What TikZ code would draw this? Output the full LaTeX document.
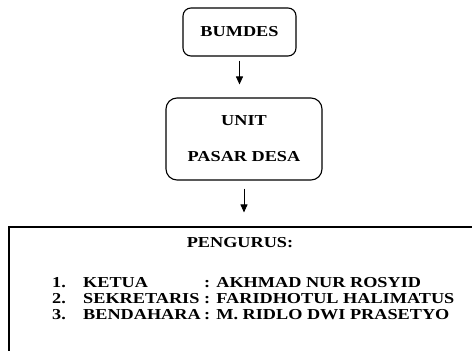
\documentclass[tikz,border=0pt]{standalone}
\usepackage{fontspec}
\setmainfont{Liberation Serif}[FakeStretch=1.2]
\usetikzlibrary{arrows.meta}
\tikzset{
  box/.style={draw, line width=1.1pt, rounded corners=8pt, inner sep=0pt, align=center,
    font=\fontsize{15.2}{17}\selectfont\bfseries},
  txt/.style={inner sep=0pt, font=\fontsize{15.2}{17}\selectfont\bfseries},
  arr/.style={line width=0.9pt, -{Triangle[length=8pt,width=7pt]}}
}
\begin{document}
\begin{tikzpicture}[x=1pt,y=-1pt]
\useasboundingbox (0,0) rectangle (472,351);
\clip (0,0) rectangle (472,351);
\node[box, minimum width=113pt, minimum height=48pt] (b1) at (239.5,32) {BUMDES};
\node[box, rounded corners=11pt, minimum width=156pt, minimum height=82pt] (u) at (244,139) {UNIT\\[19pt]PASAR DESA};
\node[draw, line width=1.1pt, minimum width=480pt, minimum height=140pt, inner sep=0pt] (p) at (249,297) {};
\coordinate (a1) at (b1.south |- u.north);
\coordinate (a2) at (u.south |- p.north);
\draw[arr] ([yshift=-4pt]b1.south) -- ([yshift=13pt]a1);
\draw[arr] ([yshift=-8pt]u.south) -- ([yshift=14pt]a2);
\node[txt] (t0) at (240,243) {PENGURUS:};
\node[txt, anchor=base west] (n1) at (52,287) {1.};
\node[txt, anchor=base west] (n2) at (52,303) {2.};
\node[txt, anchor=base west] (n3) at (52,319) {3.};
\node[txt, anchor=base west] (k1) at (83,287) {KETUA};
\node[txt, anchor=base west] (k2) at (83,303) {SEKRETARIS};
\node[txt, anchor=base west] (k3) at (83,319) {BENDAHARA};
\node[txt, anchor=base west] (c1) at (204,287) {: AKHMAD NUR ROSYID};
\node[txt, anchor=base west] (c2) at (204,303) {: FARIDHOTUL HALIMATUS};
\node[txt, anchor=base west] (c3) at (204,319) {: M. RIDLO DWI PRASETYO};
\end{tikzpicture}
\end{document}
